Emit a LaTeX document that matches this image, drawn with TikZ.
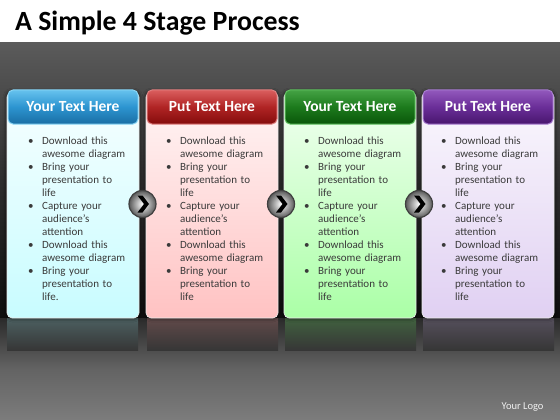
\documentclass[tikz,border=0pt]{standalone}
\usepackage{fontspec}
\setmainfont{Carlito}
\usetikzlibrary{calc,shadows.blur}
\definecolor{bgtop}{HTML}{5B5B5B}
\definecolor{bgmid}{HTML}{2E2E2E}
\definecolor{bgdark}{HTML}{0E0E0E}
\definecolor{bgrefl}{HTML}{2A2A2A}
\definecolor{bgbot}{HTML}{7C7C7C}
\definecolor{txt}{HTML}{3A3A3A}
% card colours
\definecolor{hAt}{HTML}{66C2EE}\definecolor{hAm}{HTML}{2C94D0}\definecolor{hAb}{HTML}{1A6EA4}\definecolor{hAd}{HTML}{8AD6F6}\definecolor{bAb}{HTML}{C8FCFF}
\definecolor{hBt}{HTML}{DA5E5E}\definecolor{hBm}{HTML}{B02424}\definecolor{hBb}{HTML}{840C0C}\definecolor{hBd}{HTML}{E08080}\definecolor{bBb}{HTML}{FFC2C2}
\definecolor{hCt}{HTML}{44A244}\definecolor{hCm}{HTML}{1C7A1C}\definecolor{hCb}{HTML}{0A560A}\definecolor{hCd}{HTML}{60C060}\definecolor{bCb}{HTML}{AAFFA6}
\definecolor{hDt}{HTML}{9258BC}\definecolor{hDm}{HTML}{6A2E98}\definecolor{hDb}{HTML}{48166E}\definecolor{hDd}{HTML}{A77CD0}\definecolor{bDb}{HTML}{E0D0F2}
\tikzset{
  hdr/.style={rounded corners=5pt, minimum width=130pt, minimum height=34pt, inner sep=0pt,
    text=white, font=\bfseries\fontsize{15.5}{18}\selectfont, line width=1pt},
  cardbody/.style={rounded corners=5pt, minimum width=132pt, minimum height=226pt, inner sep=0pt,
    draw=white!85!gray, line width=0.6pt,
    blur shadow={shadow xshift=0pt, shadow yshift=0pt, shadow blur radius=4pt, shadow opacity=80}},
  bodytext/.style={anchor=north west, inner sep=0pt, text width=110pt,
    text=txt, font=\fontsize{11}{13.05}\selectfont},
  chev/.style={circle, minimum size=27pt, inner sep=0pt, draw=black!75, line width=1.2pt,
    inner color=white, outer color=gray!70!black},
  logo/.style={text=white!88!gray, font=\fontsize{10.5}{12}\selectfont}
}
\newcommand{\bl}[1]{\par\noindent\makebox[14pt][l]{\textbullet}#1}
\newcommand{\cl}[1]{\par\noindent\hspace*{14pt}#1}
\newcommand{\itemsA}[1]{%
  \bl{Download this}\cl{awesome diagram}%
  \bl{Bring your}\cl{presentation to}\cl{life}%
  \bl{Capture your}\cl{audience’s}\cl{attention}%
  \bl{Download this}\cl{awesome diagram}%
  \bl{Bring your}\cl{presentation to}\cl{#1}}
\begin{document}
\begin{tikzpicture}[x=1pt,y=-1pt]
\useasboundingbox (0,0) rectangle (560,420);
% background
\fill[white] (0,0) rectangle (560,43);
\shade[top color=bgtop, bottom color=bgdark, middle color=bgmid] (0,43) rectangle (560,318);
\shade[top color=bgrefl, bottom color=bgbot, middle color=bgbot!70!bgrefl] (0,318) rectangle (560,420);
% title
\node[anchor=base west, inner sep=0pt, font=\bfseries\fontsize{27.8}{32}\selectfont] (title) at (15,31) {A Simple 4 Stage Process};
% reflections
\foreach \x/\c in {7/bAb,147/bBb,285/bCb,423/bDb}{
  \shade[top color=\c!38!black, bottom color=bgrefl!85!bgbot] (\x,318) rectangle ++(131,32);
}
% card bodies
\node[cardbody, top color=bAb!15!white, bottom color=bAb] (b1) at (73,205) {};
\node[cardbody, top color=bBb!15!white, bottom color=bBb] (b2) at (212,205) {};
\node[cardbody, top color=bCb!15!white, bottom color=bCb] (b3) at (350,205) {};
\node[cardbody, top color=bDb!15!white, bottom color=bDb] (b4) at (488,205) {};
% headers
\node[hdr, draw=hAd, top color=hAt, bottom color=hAb, middle color=hAm] (h1) at (73,107) {Your Text Here};
\node[hdr, draw=hBd, top color=hBt, bottom color=hBb, middle color=hBm] (h2) at (212,107) {Put Text Here};
\node[hdr, draw=hCd, top color=hCt, bottom color=hCb, middle color=hCm] (h3) at (350,107) {Your Text Here};
\node[hdr, draw=hDd, top color=hDt, bottom color=hDb, middle color=hDm] (h4) at (488,107) {Put Text Here};
% body texts
\node[bodytext] (t1) at (28,131) {\itemsA{life.}};
\node[bodytext] (t2) at (166,131) {\itemsA{life}};
\node[bodytext] (t3) at (304,131) {\itemsA{life}};
\node[bodytext] (t4) at (441,131) {\itemsA{life}};
% chevron circles
\foreach \a/\b/\n in {b1/b2/k1,b2/b3/k2,b3/b4/k3}{
  \node[chev] (\n) at ($(\a.east)!0.5!(\b.west)+(0,-1)$) {};
  \fill[black] ($(\n.center)+(-5,-8.5)$) -- ++(5,0) -- ++(6.5,8.5) -- ++(-6.5,8.5) -- ++(-5,0) -- ++(6.5,-8.5) -- cycle;
}
% logo
\node[logo, anchor=base east] (logo) at (547,409) {Your Logo};
\end{tikzpicture}
\end{document}
